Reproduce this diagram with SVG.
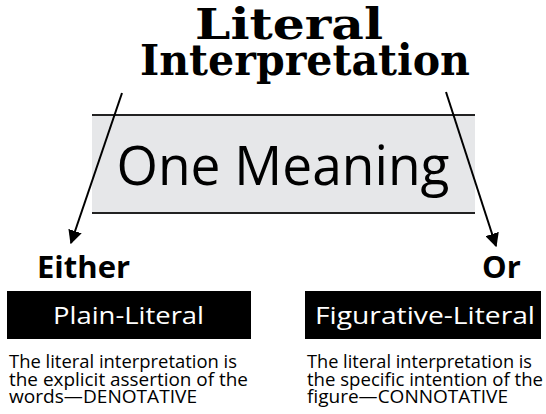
<svg xmlns="http://www.w3.org/2000/svg" width="546" height="414" viewBox="0 0 546 414">
<defs>
<style>
.title{font-family:"DejaVu Serif","Liberation Serif",serif;font-weight:bold;font-size:42px;fill:#000}
.sans{font-family:"Open Sans","Noto Sans","Liberation Sans",sans-serif}
.big{font-size:54px;fill:#000}
.choice{font-size:31px;font-weight:bold;fill:#000}
.lbl{font-size:24px;fill:#fff}
.body{font-size:17.5px;fill:#000}
.conn{stroke:#000;stroke-width:2;fill:none}
.rule{stroke:#222;stroke-width:2}
</style>
<marker id="ah" viewBox="0 0 10 10" refX="9" refY="5" markerWidth="7" markerHeight="7" markerUnits="strokeWidth" orient="auto">
<path d="M0,0 L10,5 L0,10 z" fill="#000"/>
</marker>
</defs>
<rect width="546" height="414" fill="#fff"/>
<g id="title">
<text class="title" x="289" y="39" text-anchor="middle" textLength="188" lengthAdjust="spacingAndGlyphs">Literal</text>
<text class="title" x="305" y="75" text-anchor="middle" textLength="330" lengthAdjust="spacingAndGlyphs">Interpretation</text>
</g>
<g id="meaning">
<rect x="92" y="115" width="383" height="98" fill="#e6e7e9"/>
<line class="rule" x1="92" y1="115" x2="475" y2="115"/>
<line class="rule" x1="92" y1="213" x2="475" y2="213"/>
<text class="sans big" x="283" y="185" text-anchor="middle" textLength="333" lengthAdjust="spacingAndGlyphs">One Meaning</text>
</g>
<g id="connectors">
<line class="conn" x1="122" y1="93" x2="71" y2="243" marker-end="url(#ah)"/>
<line class="conn" x1="446" y1="92" x2="496" y2="246" marker-end="url(#ah)"/>
</g>
<g id="either">
<text class="sans choice" x="37" y="278">Either</text>
</g>
<g id="or">
<text class="sans choice" x="482" y="278">Or</text>
</g>
<g id="plain">
<rect x="7" y="291" width="244" height="48" fill="#000"/>
<text class="sans lbl" x="128.5" y="324" text-anchor="middle" textLength="151" lengthAdjust="spacingAndGlyphs">Plain-Literal</text>
<text class="sans body" x="9" y="368" textLength="228" lengthAdjust="spacingAndGlyphs">The literal interpretation is</text>
<text class="sans body" x="9" y="385.5" textLength="239" lengthAdjust="spacingAndGlyphs">the explicit assertion of the</text>
<text class="sans body" x="9" y="403" textLength="188" lengthAdjust="spacingAndGlyphs">words—DENOTATIVE</text>
</g>
<g id="figurative">
<rect x="305" y="291" width="236" height="48" fill="#000"/>
<text class="sans lbl" x="425" y="324" text-anchor="middle" textLength="220" lengthAdjust="spacingAndGlyphs">Figurative-Literal</text>
<text class="sans body" x="307" y="368" textLength="225" lengthAdjust="spacingAndGlyphs">The literal interpretation is</text>
<text class="sans body" x="307" y="385.5" textLength="236" lengthAdjust="spacingAndGlyphs">the specific intention of the</text>
<text class="sans body" x="307" y="403" textLength="201" lengthAdjust="spacingAndGlyphs">figure—CONNOTATIVE</text>
</g>
</svg>
